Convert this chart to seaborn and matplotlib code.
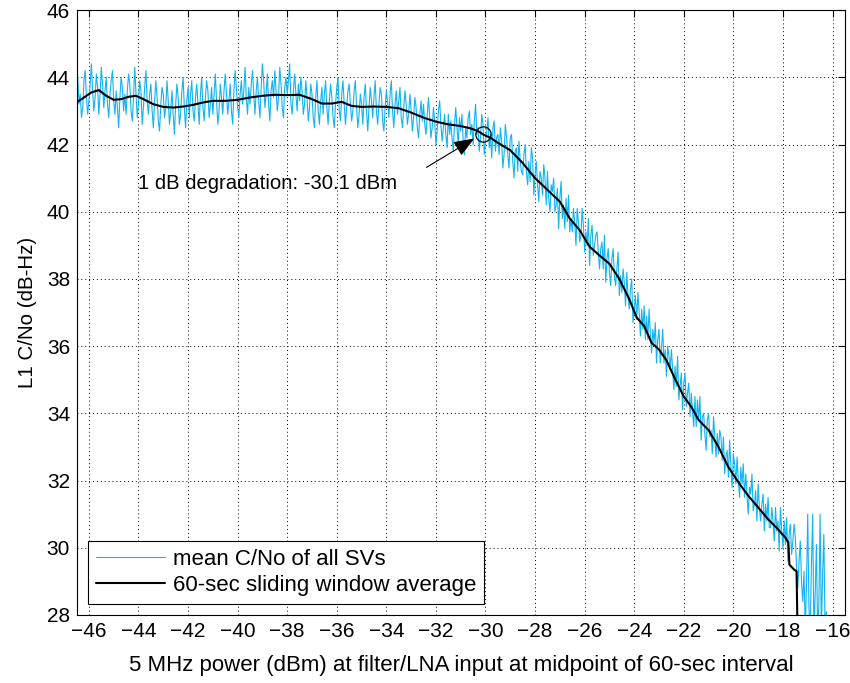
import numpy as np
import pandas as pd
import matplotlib
matplotlib.use("Agg")
import matplotlib.pyplot as plt
import seaborn as sns

# ---- data ----
cyan_x_start = -46.5
cyan_x_step = 0.05
cyan_y = [
    43.6, 44.0, 43.2, 43.5, 42.8, 43.1, 43.9, 44.2, 43.4, 42.9, 43.3, 43.8, 44.4, 43.6, 43.0, 43.4, 44.1, 43.7, 42.9, 43.5,
    44.3, 43.8, 43.1, 43.6, 44.0, 43.2, 42.8, 43.5, 43.9, 44.2, 43.3, 42.9, 43.6, 43.1, 42.5, 43.4, 44.0, 43.7, 43.0, 43.5,
    42.9, 43.6, 44.1, 43.8, 43.0, 42.7, 43.4, 44.3, 43.5, 42.8, 43.2, 43.9, 43.6, 42.6, 43.1, 43.7, 44.2, 43.3, 42.9, 43.5,
    43.8, 43.0, 42.5, 43.3, 43.9, 43.4, 42.7, 42.4, 43.2, 43.7, 43.5, 42.8, 43.1, 43.9, 43.3, 42.6, 43.0, 43.6, 42.9, 42.3,
    43.2, 43.8, 43.4, 42.6, 42.9, 43.6, 44.0, 43.1, 42.5, 43.3, 43.7, 42.8, 43.5, 43.9, 43.0, 42.7, 43.4, 43.8, 43.2, 42.6,
    43.5, 44.0, 43.1, 42.7, 43.4, 43.9, 43.6, 42.8, 43.2, 43.7, 42.9, 43.5, 44.1, 43.3, 42.6, 43.0, 43.8, 43.4, 42.9, 43.6,
    44.1, 43.5, 42.9, 43.3, 43.8, 43.0, 42.6, 43.6, 44.2, 43.7, 43.1, 42.8, 43.5, 43.9, 43.2, 43.6, 44.3, 43.4, 42.9, 43.7,
    43.2, 43.8, 44.2, 43.5, 42.9, 43.6, 44.0, 43.3, 42.8, 43.7, 44.4, 43.9, 43.1, 43.5, 44.1, 43.2, 42.7, 43.6, 43.9, 43.4,
    44.2, 43.6, 43.0, 43.4, 44.3, 43.8, 43.1, 42.8, 43.7, 44.0, 43.5, 43.9, 44.4, 43.2, 42.9, 43.6, 44.1, 43.5, 43.0, 43.8,
    43.3, 44.0, 43.6, 42.9, 43.2, 43.9, 43.4, 42.7, 43.1, 43.8, 43.5, 42.8, 42.5, 43.4, 43.9, 43.0, 42.6, 43.3, 43.7, 42.9,
    43.5, 43.9, 43.1, 42.6, 43.3, 43.8, 43.4, 42.8, 42.5, 43.2, 43.7, 44.0, 43.0, 42.7, 43.5, 43.9, 43.2, 42.6, 43.1, 43.6,
    43.8, 43.2, 42.7, 43.0, 43.6, 43.9, 43.1, 42.5, 42.9, 43.5, 43.2, 42.6, 43.4, 43.8, 43.0, 42.4, 43.1, 43.7, 43.3, 42.8,
    43.4, 43.9, 43.0, 42.6, 43.2, 43.7, 43.5, 42.7, 42.4, 43.1, 43.6, 43.3, 42.8, 43.5, 43.9, 43.0, 42.5, 43.2, 43.6, 42.9,
    43.3, 43.7, 42.8, 42.5, 43.1, 43.6, 43.2, 42.6, 42.9, 43.5, 43.0, 42.4, 42.8, 43.4, 43.1, 42.5, 42.2, 42.9, 43.3, 42.7,
    43.2, 42.6, 42.3, 42.9, 43.4, 42.8, 42.2, 42.5, 43.1, 42.7, 42.0, 42.4, 43.0, 43.3, 42.6, 42.1, 42.5, 42.9, 42.3, 41.9,
    42.9, 42.3, 42.7, 42.2, 41.8, 42.6, 43.1, 42.5, 42.0, 42.8, 42.4, 42.9, 42.1, 41.7, 42.5, 42.2, 42.8, 43.0, 42.3, 42.6,
    42.0, 42.7, 43.2, 42.3, 42.5, 41.8, 42.2, 42.9, 42.6, 41.7, 42.1, 42.4, 42.8, 41.9, 42.3, 41.6, 42.5, 42.7, 41.8, 42.2,
    42.3, 41.7, 42.5, 42.1, 41.3, 41.7, 42.6, 42.2, 41.7, 41.3, 42.2, 42.3, 41.5, 41.0, 41.8, 41.9, 41.2, 42.1, 41.5, 41.2,
    41.1, 41.7, 42.0, 41.2, 40.8, 41.5, 40.9, 41.9, 41.6, 40.5, 41.1, 41.5, 40.8, 40.3, 41.2, 41.0, 40.5, 41.4, 41.0, 40.2,
    41.2, 40.4, 40.0, 40.8, 40.6, 41.0, 40.0, 40.2, 40.7, 39.5, 40.4, 40.9, 39.8, 40.2, 39.5, 40.4, 39.7, 40.5, 39.4, 39.8,
    39.4, 40.1, 39.7, 39.0, 40.1, 39.7, 39.1, 39.3, 40.1, 39.6, 38.8, 39.4, 39.0, 39.8, 38.4, 39.3, 39.6, 38.7, 39.0, 39.3,
    39.4, 38.8, 38.3, 38.9, 39.1, 38.3, 39.3, 37.9, 38.6, 38.9, 38.2, 37.8, 38.6, 38.9, 38.1, 37.8, 38.3, 38.8, 37.5, 38.1,
    37.6, 38.3, 37.9, 37.2, 38.2, 37.5, 37.1, 37.7, 38.0, 36.7, 37.1, 37.5, 36.8, 37.6, 37.0, 36.3, 37.1, 36.5, 37.2, 36.2,
    36.9, 36.2, 37.1, 36.4, 35.8, 36.5, 36.1, 36.7, 35.5, 36.2, 36.5, 35.5, 35.9, 36.5, 35.5, 35.9, 35.1, 36.0, 35.7, 35.3,
    35.9, 35.3, 34.7, 35.4, 34.8, 35.7, 34.4, 34.8, 35.2, 34.1, 34.9, 35.2, 34.2, 34.6, 34.9, 33.9, 34.6, 34.1, 33.6, 34.5,
    33.6, 34.4, 33.8, 34.5, 33.2, 33.9, 34.0, 33.4, 32.9, 33.8, 34.0, 33.3, 33.5, 32.8, 33.9, 33.3, 32.7, 33.4, 32.8, 33.5,
    33.3, 32.6, 33.3, 32.2, 32.7, 32.9, 32.1, 33.2, 32.4, 31.8, 32.8, 32.5, 31.9, 32.7, 32.0, 31.5, 32.4, 31.9, 32.5, 31.5,
    32.2, 31.6, 31.0, 31.8, 31.6, 32.2, 31.1, 31.3, 31.7, 30.8, 31.9, 31.2, 30.8, 31.3, 31.6, 30.5, 31.3, 30.8, 31.5, 30.6,
    30.6, 31.2, 30.8, 30.2, 31.2, 30.5, 30.8, 29.9, 31.2, 30.5, 30.0, 30.8, 30.1, 30.9, 29.6, 30.4, 30.7, 29.8, 30.2, 30.7,
    30.3, 29.4, 28.8, 29.6, 30.2, 29.0, 28.4, 29.3, 27.5, 28.9, 31.0, 28.2, 27.5, 29.5, 31.0, 27.5, 28.6, 30.1, 27.5, 28.3,
    31.0, 27.5, 29.2, 30.4, 27.5, 28.1, 27.5,
]

avg_x = [-46.5, -46.2, -45.9, -45.6, -45.3, -45.0, -44.7, -44.4, -44.1, -43.8,
         -43.4, -43.0, -42.6, -42.2, -41.8, -41.4, -41.0, -40.5, -40.0, -39.5,
         -39.0, -38.5, -38.0, -37.5, -37.0, -36.6, -36.2, -35.8, -35.4, -35.0,
         -34.5, -34.0, -33.5, -33.0, -32.5, -32.0, -31.5, -31.0, -30.6, -30.3,
         -30.1, -29.8, -29.5, -29.0, -28.5, -28.0, -27.5, -27.0, -26.6, -26.2,
         -25.8, -25.4, -25.0, -24.6, -24.2, -23.9, -23.6, -23.3, -23.0, -22.7,
         -22.4, -22.0, -21.7, -21.4, -21.0, -20.6, -20.2, -19.8, -19.4, -19.0,
         -18.6, -18.2, -17.9, -17.78, -17.74, -17.55, -17.45, -17.4]
avg_y = [43.25, 43.4, 43.55, 43.62, 43.45, 43.33, 43.35, 43.42, 43.45, 43.35,
         43.2, 43.12, 43.1, 43.13, 43.18, 43.25, 43.3, 43.3, 43.33, 43.4,
         43.45, 43.48, 43.47, 43.48, 43.35, 43.22, 43.22, 43.27, 43.15, 43.12,
         43.13, 43.12, 43.08, 42.95, 42.8, 42.68, 42.6, 42.55, 42.48, 42.4,
         42.3, 42.2, 42.05, 41.83, 41.45, 41.0, 40.65, 40.3, 39.8, 39.45,
         38.96, 38.7, 38.45, 38.0, 37.4, 36.85, 36.6, 36.1, 35.9, 35.58,
         35.1, 34.5, 34.2, 33.8, 33.5, 33.0, 32.4, 31.95, 31.55, 31.2,
         30.85, 30.55, 30.3, 30.15, 29.5, 29.35, 29.3, 27.0]

degr_x = -30.1
degr_y = 42.3
x_ticks = list(range(-46, -15, 2))
y_ticks = list(range(28, 47, 2))

# ---- plot ----
sns.set_style("white")
plt.rcParams['font.family'] = ['Liberation Sans', 'DejaVu Sans']
plt.rcParams['text.color'] = 'black'
plt.rcParams['axes.labelcolor'] = 'black'

cyan_x = [cyan_x_start + i * cyan_x_step for i in range(len(cyan_y))]
df_c = pd.DataFrame({"x": cyan_x, "y": cyan_y})
df_a = pd.DataFrame({"x": avg_x, "y": avg_y})

fig = plt.figure(figsize=(8.5, 6.83), dpi=100)
ax = fig.add_axes([0.0906, 0.0996, 0.9034, 0.8856])

sns.lineplot(data=df_c, x="x", y="y", ax=ax, color="#10b4f2", lw=0.8,
             estimator=None, sort=False, label="mean C/No of all SVs")
sns.lineplot(data=df_a, x="x", y="y", ax=ax, color="black", lw=1.5,
             estimator=None, sort=False, label="60-sec sliding window average")

ax.plot([degr_x], [degr_y], 'o', mfc='none', mec='black', ms=11, mew=0.9)
ax.annotate('', xy=(-30.45, 42.18), xytext=(-32.38, 41.32),
            arrowprops=dict(arrowstyle='-|>,head_length=0.9,head_width=0.35',
                            color='black', lw=0.8, shrinkA=0, shrinkB=0),
            fontsize=14)
ax.text(-44.03, 40.85, "1 dB degradation: -30.1 dBm", fontsize=14.6,
        ha='left', va='center', color='black')

ax.set_xlim(-46.48, -15.5)
ax.set_ylim(28, 46)
ax.set_xticks(x_ticks)
ax.set_yticks(y_ticks)
ax.tick_params(direction='in', top=True, right=True, length=5, width=0.8,
               labelsize=15, colors='black', pad=5)
ax.grid(True, linestyle=(0, (1, 3)), color='black', linewidth=0.7)
for s in ax.spines.values():
    s.set_color('black')
    s.set_linewidth(0.8)
ax.set_xlabel("5 MHz power (dBm) at filter/LNA input at midpoint of 60-sec interval",
              fontsize=16, labelpad=10, color='black')
ax.set_ylabel("L1 C/No (dB-Hz)", fontsize=14.8, labelpad=7, color='black')

leg = ax.legend(loc='lower left', fontsize=16, fancybox=False, framealpha=1,
                edgecolor='black', handlelength=3.1, handletextpad=0.35,
                borderaxespad=0.5, borderpad=0.35, labelspacing=0.25)
leg.get_frame().set_linewidth(0.8)
for t in leg.get_texts():
    t.set_color('black')

fig.savefig("out.png", dpi=100)
